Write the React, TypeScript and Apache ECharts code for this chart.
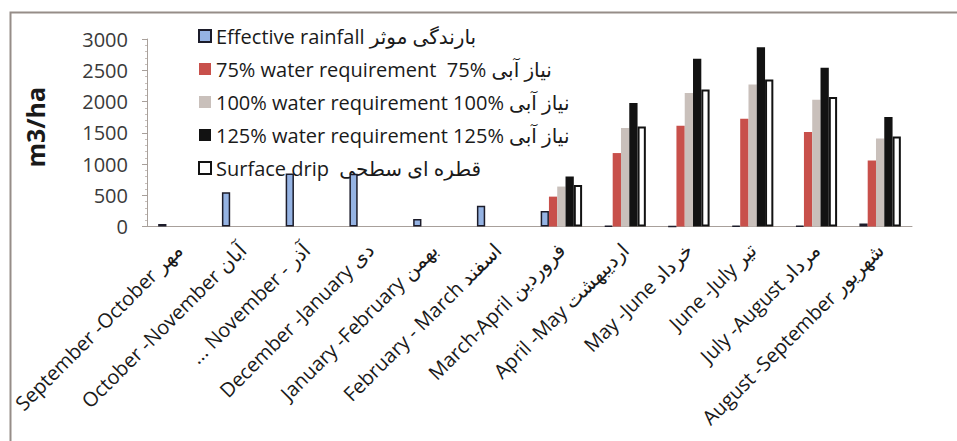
import React, { useEffect, useRef } from "react";
import * as echarts from "echarts";

const categories = [
  "September -October مهر",
  "October -November آبان",
  "... November - آذر",
  "December -January دی",
  "January -February بهمن",
  "February - March اسفند",
  "March-April فروردین",
  "April -May اردیبهشت",
  "May -June خرداد",
  "June -July تیر",
  "July -August مرداد",
  "August -September شهریور",
];

const seriesNames = [
  "Effective rainfall بارندگی موثر",
  "75% water requirement  75% نیاز آبی",
  "100% water requirement 100% نیاز آبی",
  "125% water requirement 125% نیاز آبی",
  "Surface drip  قطره ای سطحی",
];

const effectiveRainfall = [40, 549, 850, 845, 120, 334, 249, 10, 0, 10, 10, 48];
const req75 = [null, null, null, null, null, null, 478, 1175, 1613, 1725, 1512, 1056];
const req100 = [null, null, null, null, null, null, 639, 1576, 2138, 2271, 2030, 1409];
const req125 = [null, null, null, null, null, null, 800, 1977, 2684, 2870, 2539, 1752];
const surfaceDrip = [null, null, null, null, null, null, 666, 1602, 2191, 2351, 2073, 1441];

const yTicks = [0, 500, 1000, 1500, 2000, 2500, 3000];

export default function App() {
  const ref = useRef<HTMLDivElement>(null);
  useEffect(() => {
    if (!ref.current) return;
    const chart = echarts.init(ref.current, null, { renderer: "svg" });
    const font = "'Open Sans', 'DejaVu Sans', sans-serif";
    const styles = [
      { color: "#95b3e3", borderColor: "#1c1c2a", borderWidth: 1.5 },
      { color: "#c8504b", borderWidth: 0 },
      { color: "#c9c0bb", borderWidth: 0 },
      { color: "#121212", borderWidth: 0 },
      { color: "#ffffff", borderColor: "#121212", borderWidth: 2 },
    ];
    const datas = [effectiveRainfall, req75, req100, req125, surfaceDrip];
    chart.setOption({
      animation: false,
      backgroundColor: "#ffffff",
      graphic: [
        {
          type: "rect",
          shape: { x: 10.5, y: 12.5, width: 960, height: 440 },
          style: { fill: "none", stroke: "#968d88", lineWidth: 2 },
          silent: true,
          z: 0,
        },
      ],
      grid: { left: 147, right: 45, top: 39, bottom: 214.5, containLabel: false },
      legend: {
        orient: "vertical",
        left: 193,
        top: 20,
        z: 1,
        itemWidth: 12,
        itemHeight: 12,
        itemGap: 11,
        icon: "rect",
        textStyle: { fontFamily: font, fontSize: 20, color: "#1a1a1a", lineHeight: 22 },
        data: seriesNames,
      },
      xAxis: {
        type: "category",
        data: categories,
        axisLine: { show: true, lineStyle: { color: "#a8a09b", width: 1 } },
        axisTick: { show: false },
        axisLabel: {
          interval: 0,
          rotate: 45,
          margin: 20,
          fontFamily: font,
          fontSize: 20,
          color: "#1a1a1a",
        },
      },
      yAxis: {
        type: "value",
        min: 0,
        max: 3000,
        interval: 500,
        name: "m3/ha",
        nameLocation: "middle",
        nameRotate: 90,
        nameGap: 100,
        nameTextStyle: {
          fontFamily: font,
          fontSize: 25,
          fontWeight: "bold",
          color: "#1a1a1a",
          padding: [0, 0, 0, 11],
        },
        axisLine: { show: true, lineStyle: { color: "#a8a09b", width: 1 } },
        axisTick: { show: true, length: 5, lineStyle: { color: "#a8a09b" } },
        minorTick: { show: true, splitNumber: 5, length: 2, lineStyle: { color: "#c8c0bb" } },
        splitLine: { show: false },
        axisLabel: {
          margin: 19,
          fontFamily: font,
          fontSize: 20,
          color: "#3a3a3a",
          formatter: (v: number) => (yTicks.includes(v) ? String(v) : ""),
        },
      },
      series: seriesNames.map((name, i) => ({
        name,
        type: "bar",
        data: datas[i],
        barGap: "0%",
        barCategoryGap: "35%",
        itemStyle: styles[i],
        z: 5,
      })),
    });
    return () => chart.dispose();
  }, []);
  return (
    <div
      ref={ref}
      style={{ position: "fixed", left: 0, top: 0, width: 957, height: 441 }}
    />
  );
}
